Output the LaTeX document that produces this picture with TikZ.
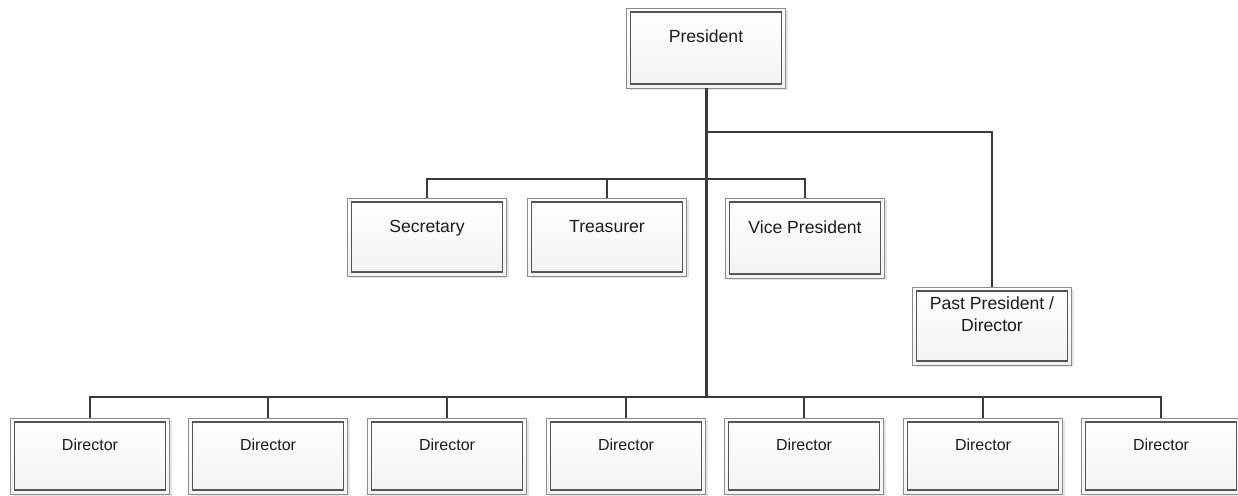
\documentclass[tikz,border=0pt]{standalone}
\usepackage{fontspec}
\setmainfont{Liberation Sans}
\usetikzlibrary{shadows}
\definecolor{linec}{HTML}{3A3A3A}
\definecolor{outerc}{HTML}{8C8C8C}
\definecolor{innerc}{HTML}{555555}
\definecolor{txtc}{HTML}{1C1C1C}
\tikzset{
  box/.style={rectangle, draw=outerc, line width=0.9pt, top color=white, bottom color=black!5,
    minimum width=159pt, minimum height=78pt, inner sep=0pt,
    path picture={\draw[innerc, line width=1.2pt]
      ([shift={(4pt,4pt)}]path picture bounding box.south west) rectangle
      ([shift={(-4pt,-4pt)}]path picture bounding box.north east);},
    drop shadow={opacity=0.1, shadow xshift=2pt, shadow yshift=-2pt, fill=black}},
  uptext/.style={anchor=base, inner sep=0pt, text=txtc, font=\fontsize{17.6}{22}\selectfont},
  dirtext/.style={anchor=base, inner sep=0pt, text=txtc, font=\fontsize{16}{19}\selectfont},
  conn/.style={draw=linec, line width=2pt},
  trunk/.style={draw=linec, line width=3pt},
}
\begin{document}
\begin{tikzpicture}[x=1pt, y=-1pt]
\useasboundingbox (0,0) rectangle (1238,495);
% upper boxes
\node[box, minimum height=80pt] (pres) at (706,48) {};
\node[uptext] (prest) at ([yshift=-35pt]pres.north) {President};
\node[box] (sec) at (427,237) {};
\node[uptext] (sect) at ([yshift=-35pt]sec.north) {Secretary};
\node[box] (tre) at (607,237) {};
\node[uptext] (tret) at ([yshift=-35pt]tre.north) {Treasurer};
\node[box, minimum height=80pt] (vp) at (805,238) {};
\node[uptext] (vpt) at ([yshift=-36pt]vp.north) {Vice President};
\node[box] (pp) at (992,326) {};
\node[uptext, anchor=north, align=center, yshift=-10.3pt] (ppt) at (pp.north) {Past President /\\Director};
% directors
\foreach \i/\x in {1/90,2/268,3/447,4/626,5/804,6/983,7/1161}{
  \node[box, minimum height=76pt] (d\i) at (\x,456) {};
  \node[dirtext] (d\i t) at ([yshift=-33pt]d\i.north) {Director};
}
% junctions
\coordinate (j1) at (706,132);
\coordinate (j2) at (706,179);
\coordinate (j3) at (706,397);
% connectors
\draw[conn] (j1) -| (pp.north);
\draw[conn] (sec.north) |- (j2) -| (vp.north);
\draw[conn] (tre.north) -- (tre.north |- j2);
\draw[conn] (d1.north) |- (j3) -| (d7.north);
\foreach \i in {2,...,6}{
  \draw[conn] (d\i.north) -- (d\i.north |- j3);
}
\draw[trunk] (pres.south) -- ([yshift=-1pt]j3);
\end{tikzpicture}
\end{document}
